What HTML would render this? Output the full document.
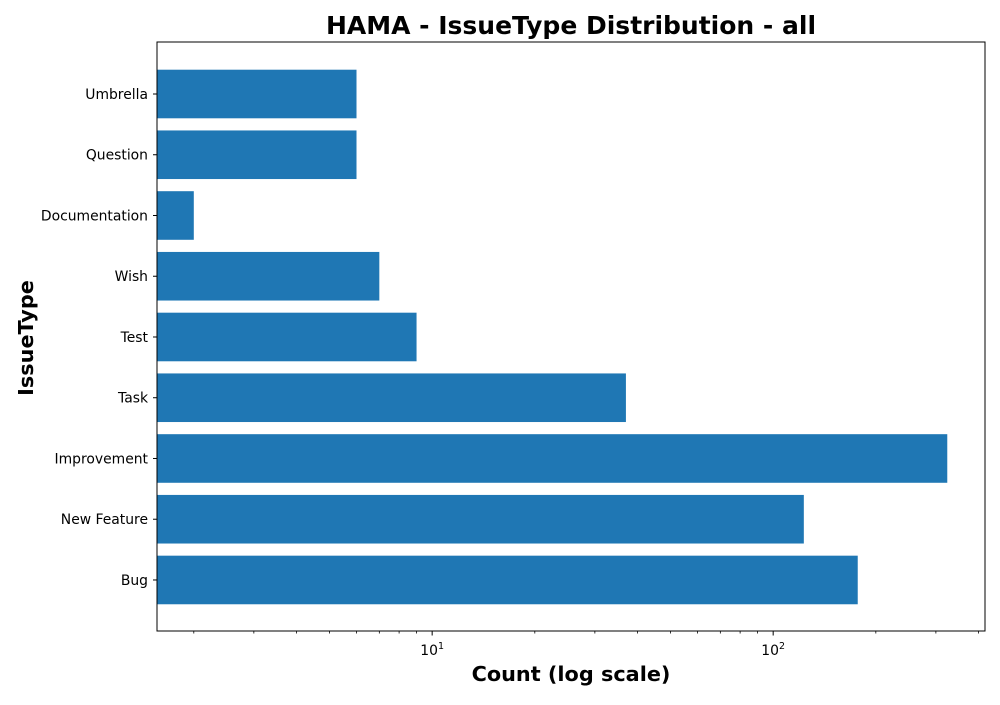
<!DOCTYPE html>
<html><head><meta charset="utf-8"><style>
body{margin:0;background:#fff;}
svg text{font-family:"DejaVu Sans","Liberation Sans",sans-serif;}
</style></head><body>
<svg id="chart" width="1000" height="700" xmlns="http://www.w3.org/2000/svg">
<text x="571" y="34" text-anchor="middle" font-size="25" font-weight="bold">HAMA - IssueType Distribution - all</text>
<text x="571" y="681" text-anchor="middle" font-size="20.8" font-weight="bold">Count (log scale)</text>
<text transform="translate(33,338) rotate(-90)" text-anchor="middle" font-size="20.8" font-weight="bold">IssueType</text>
<g id="bars"></g><g id="axes"></g>
<rect x="157" y="42" width="828" height="589" fill="none" stroke="#000" stroke-width="1"/>
</svg>
<script>
const categories=["Bug","New Feature","Improvement","Task","Test","Wish","Documentation","Question","Umbrella"];
const counts=[177,123,324,37,9,7,2,6,6];
const xTickExps=[1,2];
const L=157,R=985,T=42,B=631;
const xMinLog=Math.log10(1.56),xMaxLog=Math.log10(418);
const yMin=-0.84,yMax=8.856;
function xs(v){return L+(Math.log10(v)-xMinLog)/(xMaxLog-xMinLog)*(R-L);}
function ys(i){return B-(i-yMin)/(yMax-yMin)*(B-T);}
const ns="http://www.w3.org/2000/svg";
const bars=document.getElementById('bars'),axes=document.getElementById('axes');
function mk(t,a,p){const e=document.createElementNS(ns,t);for(const k in a)e.setAttribute(k,a[k]);p.appendChild(e);return e;}
const bh=0.8*(B-T)/(yMax-yMin);
categories.forEach((c,i)=>{
 const r=mk('rect',{x:L,y:ys(i)-bh/2,width:Math.max(0,xs(counts[i])-L),height:bh,fill:'#1f77b4'},bars);
 
 
 const tk=mk('line',{x1:L-4,x2:L,y1:ys(i),y2:ys(i),stroke:'#000'},axes);
 
 
 const tl=mk('text',{x:L-9,y:ys(i)+5,'text-anchor':'end','font-size':'13.9'},axes);
 tl.textContent=c;
 
 
});
for(let d=0;d<=2;d++)for(let m=2;m<=9;m++){const v=m*Math.pow(10,d);const x=xs(v);if(x<L||x>R)continue;
 const t=mk('line',{x1:x,x2:x,y1:B,y2:B+2.5,stroke:'#000','stroke-width':0.8},axes);
 
 }
xTickExps.forEach(e=>{const x=xs(Math.pow(10,e));
 const t=mk('line',{x1:x,x2:x,y1:B,y2:B+4.5,stroke:'#000'},axes);
 
 
 const tx=mk('text',{x:x,y:B+24,'text-anchor':'middle','font-size':'13.9'},axes);
 
 
 tx.innerHTML='10<tspan dy="-6" font-size="9.5">'+e+'</tspan>';});
</script>
</body></html>
